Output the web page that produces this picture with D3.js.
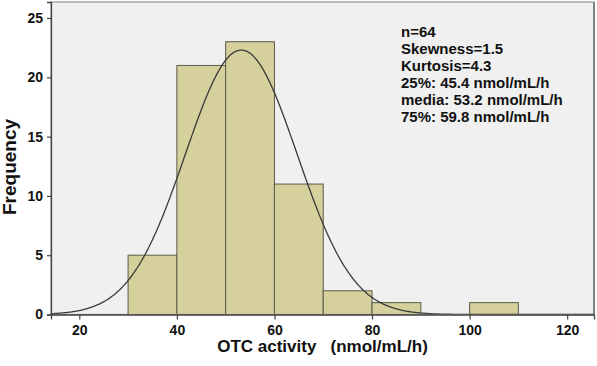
<!DOCTYPE html>
<html>
<head>
<meta charset="utf-8">
<script src="https://cdn.jsdelivr.net/npm/d3@7"></script>
<style>
  html, body { margin: 0; padding: 0; background: #fff; }
  svg { display: block; font-family: "Liberation Sans", Arial, sans-serif; }
</style>
</head>
<body>
<div id="chart"></div>
<script>
// ── Data ─────────────────────────────────────────────
var binStart = [30, 40, 50, 60, 70, 80, 90, 100];
var binEnd   = [40, 50, 60, 70, 80, 90, 100, 110];
var counts   = [5, 21, 23, 11, 2, 1, 0, 1];
var xTicks = [20, 40, 60, 80, 100, 120];
var yTicks = [0, 5, 10, 15, 20, 25];
var statLines = [
  "n=64",
  "Skewness=1.5",
  "Kurtosis=4.3",
  "25%: 45.4 nmol/mL/h",
  "media: 53.2 nmol/mL/h",
  "75%: 59.8 nmol/mL/h"
];
// fitted normal curve parameters
var fitN = 64, fitMean = 53.2, fitSd = 11.45, binWidth = 10;

// ── Layout ───────────────────────────────────────────
var W = 597, H = 366;
var plot = { left: 51, top: 2, right: 594, bottom: 314.5 };

var svg = d3.select("#chart").append("svg")
  .attr("width", W).attr("height", H);

var x = d3.scaleLinear().domain([14.2, 125.5]).range([plot.left, plot.right]);
var y = d3.scaleLinear().domain([0, 26.35]).range([plot.bottom, plot.top]);

// plot background
svg.append("rect")
  .attr("x", plot.left).attr("y", plot.top)
  .attr("width", plot.right - plot.left)
  .attr("height", plot.bottom - plot.top)
  .attr("fill", "#f0f0f0");

// bars
var bars = binStart.map(function (s, i) {
  return { x0: s, x1: binEnd[i], n: counts[i] };
}).filter(function (d) { return d.n > 0; });

svg.append("g").selectAll("rect").data(bars).join("rect")
  .attr("x", function (d) { return x(d.x0); })
  .attr("y", function (d) { return y(d.n); })
  .attr("width", function (d) { return x(d.x1) - x(d.x0); })
  .attr("height", function (d) { return y(0) - y(d.n); })
  .attr("fill", "#d5d09c")
  .attr("stroke", "#5a5a4a")
  .attr("stroke-width", 1);

// normal curve
var curvePts = d3.range(x.domain()[0], x.domain()[1] + 0.01, 0.25).map(function (v) {
  var z = (v - fitMean) / fitSd;
  return [v, fitN * binWidth / (fitSd * Math.sqrt(2 * Math.PI)) * Math.exp(-0.5 * z * z)];
});
svg.append("path")
  .datum(curvePts)
  .attr("fill", "none")
  .attr("stroke", "#3a3a3a")
  .attr("stroke-width", 1.3)
  .attr("d", d3.line().x(function (d) { return x(d[0]); }).y(function (d) { return y(d[1]); }));

// frame
svg.append("rect")
  .attr("x", plot.left).attr("y", plot.top)
  .attr("width", plot.right - plot.left)
  .attr("height", plot.bottom - plot.top)
  .attr("fill", "none")
  .attr("stroke", "#9a9a9a")
  .attr("stroke-width", 1.3);
svg.append("line")
  .attr("x1", plot.right).attr("x2", plot.right)
  .attr("y1", plot.top).attr("y2", plot.bottom)
  .attr("stroke", "#808080").attr("stroke-width", 2);

// axes
var xAxis = svg.append("g")
  .attr("transform", "translate(0," + plot.bottom + ")")
  .call(d3.axisBottom(x).tickValues(xTicks).tickSize(5).tickPadding(6));
var yAxis = svg.append("g")
  .attr("transform", "translate(" + plot.left + ",0)")
  .call(d3.axisLeft(y).tickValues(yTicks).tickSize(4).tickPadding(4));

[xAxis, yAxis].forEach(function (a) {
  a.select(".domain").attr("stroke", "#444").attr("stroke-width", 1.3);
  a.selectAll(".tick line").attr("stroke", "#444").attr("stroke-width", 1.2);
  a.selectAll(".tick text")
    .attr("fill", "#111")
    .attr("font-size", 14)
    .attr("font-weight", "bold")
    .attr("font-family", "Liberation Sans, Arial, sans-serif");
});

// axis titles
svg.append("text")
  .attr("x", (plot.left + plot.right) / 2)
  .attr("y", 352)
  .attr("text-anchor", "middle")
  .attr("font-size", 17)
  .attr("font-weight", "bold")
  .attr("fill", "#111")
  .attr("xml:space", "preserve")
  .text("OTC activity   (nmol/mL/h)");

svg.append("text")
  .attr("transform", "translate(16," + 167 + ") rotate(-90)")
  .attr("text-anchor", "middle")
  .attr("font-size", 19)
  .attr("font-weight", "bold")
  .attr("fill", "#111")
  .text("Frequency");

// stats block
svg.append("g").selectAll("text").data(statLines).join("text")
  .attr("x", 401)
  .attr("y", function (d, i) { return 37 + i * 17; })
  .attr("font-size", 15)
  .attr("font-weight", "bold")
  .attr("fill", "#111")
  .text(function (d) { return d; });
</script>
</body>
</html>
